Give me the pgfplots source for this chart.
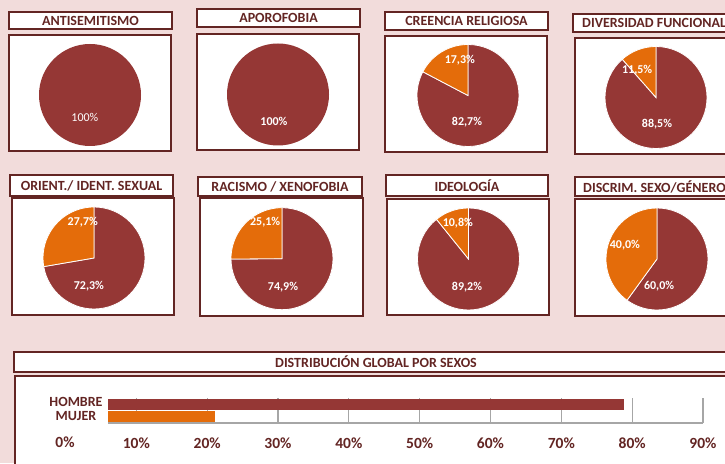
\documentclass[border=0pt]{standalone}
\usepackage{pgfplots}
\pgfplotsset{compat=1.18}
\usepackage{fontspec}
\setmainfont{Carlito}
\definecolor{bgc}{HTML}{F2DCDB}
\definecolor{maroonc}{HTML}{953735}
\definecolor{orangec}{HTML}{E46C0A}
\definecolor{darkc}{HTML}{632523}
\definecolor{gridc}{HTML}{A6A6A6}
\newcommand\tfont{\bfseries\fontsize{14}{16}\selectfont}
\newcommand\lfont{\bfseries\fontsize{12}{14}\selectfont}
% box: x1 y1 x2 y2 (pt, y from bottom)
\newcommand\bx[4]{\draw[darkc,line width=1.5pt,fill=white] (#1pt,#2pt) rectangle (#3pt,#4pt);}
\newcommand\ttl[5]{\bx{#1}{#2}{#3}{#4}\node[text=darkc,font=\tfont,inner sep=0pt] at ({(#1+#3)/2*1pt},{(#2+#4)/2*1pt}) {#5};}
\pgfplotsset{pie/.style={width=102pt,height=102pt,scale only axis,xmin=-1,xmax=1,ymin=-1,ymax=1,hide axis,anchor=center,clip=false}}
% maroon share, orange share (orange runs back from 12 o'clock)
\newcommand\twopie[2]{%
 \fill[maroonc,draw=white,line width=0.8pt] (axis cs:0,0) -- (axis cs:0,1) arc[start angle=90,delta angle={-3.6*#1},radius=51pt] -- cycle;
 \fill[orangec,draw=white,line width=0.8pt] (axis cs:0,0) -- (axis cs:0,1) arc[start angle=90,delta angle={3.6*#2},radius=51pt] -- cycle;}
\newcommand\fullpie{\fill[maroonc] (axis cs:0,0) circle[radius=51pt];}
\newcommand\lab[3]{\node[text=white,font=\lfont,inner sep=0pt] at (axis cs:#1,#2) {#3};}
\begin{document}
\begin{tikzpicture}
\path[use as bounding box] (0,0) rectangle (725pt,463pt);
\fill[bgc] (0,0) rectangle (725pt,463pt);
% titles and frames
\ttl{9}{451}{172}{434}{ANTISEMITISMO}
\ttl{197}{454}{360}{436}{APOROFOBIA}
\ttl{385}{451}{548}{433}{CREENCIA RELIGIOSA}
\bx{573}{449}{760}{431}\node[text=darkc,font=\tfont,anchor=west,inner sep=0pt] at (582pt,440pt) {DIVERSIDAD FUNCIONAL};
\ttl{10}{288}{173}{267}{ORIENT./ IDENT. SEXUAL}
\ttl{198}{286}{362}{267}{RACISMO / XENOFOBIA}
\ttl{386}{288}{548}{267}{IDEOLOGÍA}
\bx{575}{286}{760}{267}\node[text=darkc,font=\tfont,anchor=west,inner sep=0pt] at (583pt,276.5pt) {DISCRIM. SEXO/GÉNERO};
\bx{9}{428}{171}{312}
\bx{197}{429}{359}{313}
\bx{385}{427}{547}{311}
\bx{575}{425}{760}{309}
\bx{12}{265}{174}{148}
\bx{200}{265}{363}{147}
\bx{387}{264}{549}{148}
\bx{575}{264}{760}{147}
\bx{14}{111}{760}{91}\node[text=darkc,font=\tfont,inner sep=0pt] at (376pt,101pt) {DISTRIBUCIÓN GLOBAL POR SEXOS};
\bx{15}{87}{760}{-17}
% pies
\begin{axis}[pie,at={(90pt,368pt)}]
\fullpie
\node[text=white,font=\fontsize{12}{14}\selectfont,inner sep=0pt] at (axis cs:-0.10,-0.45) {100\%};
\end{axis}
\begin{axis}[pie,at={(278pt,368.5pt)}]
\fullpie
\lab{-0.08}{-0.52}{100\%}
\end{axis}
\begin{axis}[pie,at={(468pt,367.5pt)}]
\twopie{82.7}{17.3}
\lab{-0.16}{0.70}{17,3\%}
\lab{-0.02}{-0.52}{82,7\%}
\end{axis}
\begin{axis}[pie,at={(656pt,365.5pt)}]
\twopie{88.5}{11.5}
\lab{-0.37}{0.54}{11,5\%}
\lab{0.02}{-0.52}{88,5\%}
\end{axis}
\begin{axis}[pie,at={(94pt,205pt)}]
\twopie{72.3}{27.7}
\lab{-0.22}{0.71}{27,7\%}
\lab{-0.10}{-0.55}{72,3\%}
\end{axis}
\begin{axis}[pie,at={(282pt,204.3pt)}]
\twopie{74.9}{25.1}
\lab{-0.33}{0.72}{25,1\%}
\lab{0.02}{-0.55}{74,9\%}
\end{axis}
\begin{axis}[pie,at={(468.5pt,204pt)}]
\twopie{89.2}{10.8}
\lab{-0.21}{0.71}{10,8\%}
\lab{-0.03}{-0.55}{89,2\%}
\end{axis}
\begin{axis}[pie,at={(657pt,204pt)}]
\twopie{60.0}{40.0}
\lab{-0.63}{0.27}{40,0\%}
\lab{0.04}{-0.53}{60,0\%}
\end{axis}
% global distribution
\begin{axis}[at={(108pt,40pt)},anchor=south west,width=595pt,height=25pt,scale only axis,
  xbar,bar width=11pt,bar shift=0pt,xmin=6,xmax=90,ymin=-0.6,ymax=1.55,
  axis x line*=bottom,axis y line*=left,x axis line style={gridc,line width=1.3pt,-},
  y axis line style={draw=none},
  xmajorgrids,grid style={gridc,line width=1.3pt},major tick length=0pt,
  xtick={10,20,30,40,50,60,70,80,90},
  xticklabels={10\%,20\%,30\%,40\%,50\%,60\%,70\%,80\%,90\%},
  ytick={0,1},yticklabels={MUJER,\raisebox{5pt}{HOMBRE}},
  ticklabel style={text=darkc,font=\tfont},
  xticklabel style={font=\bfseries\fontsize{15.5}{17}\selectfont,yshift=-11pt},
  yticklabel style={anchor=center,xshift=-32pt}]
\addplot[fill=maroonc,draw=none] coordinates {(78.9,1)};
\addplot[fill=orangec,draw=none] coordinates {(21.1,0)};
\end{axis}
\node[text=darkc,font=\bfseries\fontsize{15.5}{17}\selectfont,inner sep=0pt] at (65pt,21pt) {0\%};
\end{tikzpicture}
\end{document}
